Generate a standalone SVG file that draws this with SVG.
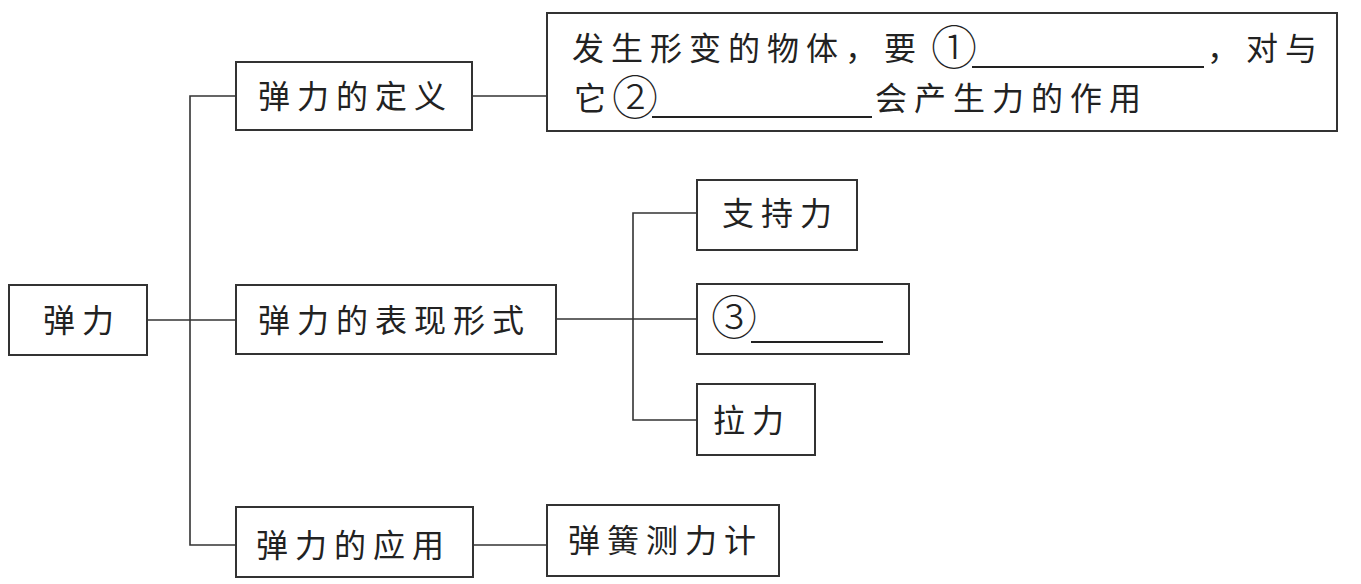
<svg xmlns="http://www.w3.org/2000/svg" width="1361" height="584" viewBox="0 0 1361 584">
<style>
rect.box{fill:#fff;stroke:#333;stroke-width:2}
.c line,.c polyline{stroke:#333;stroke-width:1.6;fill:none}
text{font-family:"Noto Sans CJK SC","Liberation Serif",serif;font-size:32px;fill:#222;letter-spacing:7px}
text.cn{font-size:46px;letter-spacing:0;font-weight:300}
.u{stroke:#222;stroke-width:1.8}
</style>
<rect width="1361" height="584" fill="#fff"/>
<g class="c" id="connectors">
<line x1="147" y1="320" x2="236" y2="320"/>
<polyline points="236,96 190,96 190,545 236,545"/>
<line x1="472" y1="96" x2="547" y2="96"/>
<line x1="556" y1="319" x2="697" y2="319"/>
<polyline points="697,213 633,213 633,420 697,420"/>
<line x1="473" y1="545" x2="547" y2="545"/>
</g>
<g id="n-tanli"><rect class="box" x="9" y="285" width="138" height="70"/><text x="43" y="332">弹力</text></g>
<g id="n-def"><rect class="box" x="236" y="62" width="236" height="68"/><text x="258" y="108">弹力的定义</text></g>
<g id="n-defbox"><rect class="box" x="547" y="13" width="790" height="118"/>
<text x="572" y="60" letter-spacing="7" style="letter-spacing:7px">发生形变的物体，要</text><text class="cn" x="931" y="64">①</text><line class="u" x1="972" y1="67" x2="1204" y2="67"/><text x="1207" y="60">，对与</text>
<text x="574" y="110" style="letter-spacing:0">它</text><text class="cn" x="612" y="114">②</text><line class="u" x1="652" y1="117" x2="872" y2="117"/><text x="875" y="110">会产生力的作用</text>
</g>
<g id="n-form"><rect class="box" x="236" y="285" width="320" height="69"/><text x="258" y="332">弹力的表现形式</text></g>
<g id="n-zhichi"><rect class="box" x="697" y="180" width="160" height="70"/><text x="722" y="225">支持力</text></g>
<g id="n-3"><rect class="box" x="697" y="284" width="212" height="70"/><text class="cn" x="711" y="334">③</text><line class="u" x1="751" y1="342" x2="883" y2="342"/></g>
<g id="n-la"><rect class="box" x="697" y="384" width="118" height="71"/><text x="713" y="432">拉力</text></g>
<g id="n-app"><rect class="box" x="236" y="507" width="237" height="70"/><text x="256" y="557">弹力的应用</text></g>
<g id="n-spring"><rect class="box" x="547" y="505" width="232" height="71"/><text x="568" y="552">弹簧测力计</text></g>
</svg>
